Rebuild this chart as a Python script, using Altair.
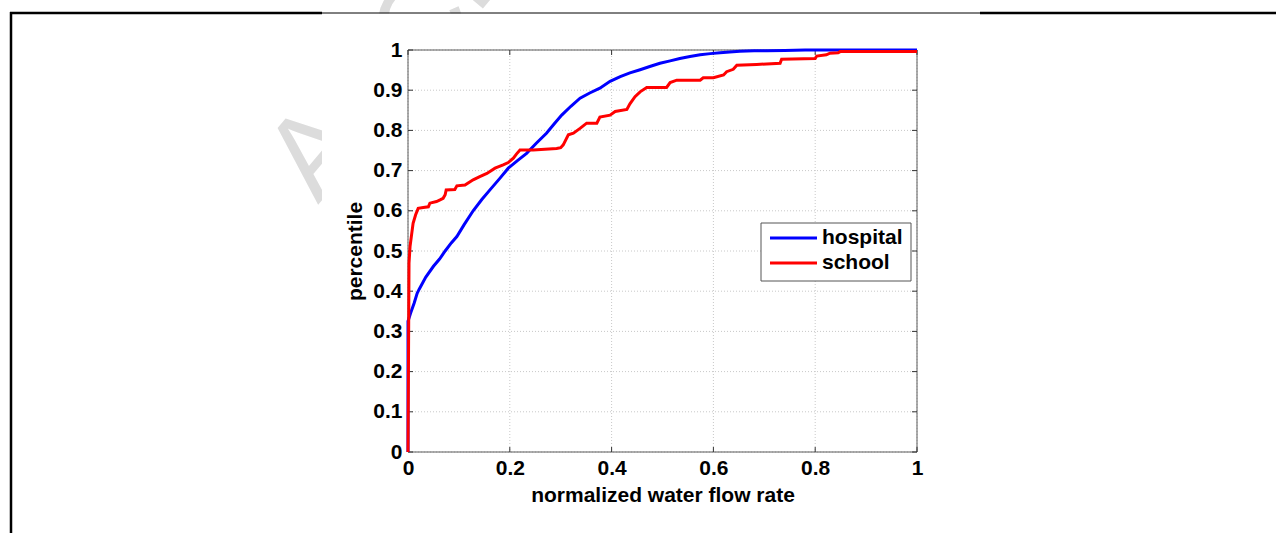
import altair as alt
import pandas as pd

# ---- data ----
series = ["hospital", "school"]
colors = ["#0000ff", "#ff0000"]

hospital_x = [0, 0, 0.005, 0.012, 0.018, 0.022, 0.035, 0.05, 0.062, 0.073, 0.085, 0.096,
              0.11, 0.128, 0.145, 0.161, 0.18, 0.197, 0.215, 0.233, 0.252, 0.272, 0.287,
              0.302, 0.32, 0.338, 0.357, 0.377, 0.397, 0.417, 0.436, 0.456, 0.475, 0.495,
              0.515, 0.534, 0.554, 0.574, 0.594, 0.613, 0.632, 0.652, 0.68, 0.705, 0.74,
              0.78, 0.83, 0.9, 1.0]
hospital_y = [0, 0.325, 0.345, 0.37, 0.395, 0.405, 0.435, 0.462, 0.48, 0.5, 0.52, 0.536,
              0.565, 0.6, 0.628, 0.652, 0.68, 0.706, 0.725, 0.743, 0.768, 0.793, 0.816,
              0.838, 0.86, 0.88, 0.893, 0.905, 0.922, 0.934, 0.943, 0.951, 0.959, 0.967,
              0.973, 0.979, 0.984, 0.988, 0.991, 0.993, 0.995, 0.997, 0.998, 0.998, 0.999,
              1.0, 1.0, 1.0, 1.0]

school_x = [0, 0.002, 0.004, 0.007, 0.010, 0.015, 0.020, 0.030, 0.040, 0.043, 0.056, 0.063,
            0.069, 0.073, 0.075, 0.092, 0.096, 0.112, 0.128, 0.141, 0.155, 0.171, 0.187,
            0.197, 0.207, 0.213, 0.220, 0.246, 0.292, 0.300, 0.305, 0.315, 0.325, 0.338,
            0.351, 0.371, 0.377, 0.397, 0.407, 0.430, 0.436, 0.446, 0.456, 0.469, 0.508,
            0.515, 0.528, 0.574, 0.580, 0.600, 0.620, 0.626, 0.639, 0.646, 0.685, 0.731,
            0.734, 0.800, 0.803, 0.822, 0.829, 0.845, 0.849, 1.0]
school_y = [0, 0.47, 0.511, 0.54, 0.569, 0.59, 0.606, 0.608, 0.610, 0.619, 0.623, 0.627,
            0.631, 0.64, 0.652, 0.653, 0.662, 0.664, 0.677, 0.685, 0.693, 0.706, 0.714,
            0.720, 0.731, 0.741, 0.751, 0.751, 0.755, 0.757, 0.764, 0.789, 0.793, 0.805,
            0.818, 0.818, 0.833, 0.838, 0.847, 0.852, 0.866, 0.884, 0.896, 0.907, 0.907,
            0.919, 0.925, 0.925, 0.931, 0.931, 0.938, 0.946, 0.952, 0.962, 0.964, 0.967,
            0.977, 0.979, 0.985, 0.988, 0.992, 0.993, 0.996, 0.996]

x_ticks = [0, 0.2, 0.4, 0.6, 0.8, 1]
y_ticks = [0, 0.1, 0.2, 0.3, 0.4, 0.5, 0.6, 0.7, 0.8, 0.9, 1]

x_title = "normalized water flow rate"
y_title = "percentile"
watermark_text = "ACCEPTED MANUSCRIPT"

# ---- layout ----
W, H = 509, 402
OX, OY = 408, 50
FONT = "Liberation Sans"

rows = []
for name, xs_, ys_ in [("hospital", hospital_x, hospital_y), ("school", school_x, school_y)]:
    for i, (xv, yv) in enumerate(zip(xs_, ys_)):
        rows.append({"series": name, "x": xv, "y": yv, "i": i})
df = pd.DataFrame(rows)

xsc = alt.Scale(domain=[0, 1], nice=False, zero=False)
ysc = alt.Scale(domain=[0, 1], nice=False, zero=False)
one = pd.DataFrame({"a": [0]})

axis_common = dict(
    grid=False, ticks=False, domain=False, format="~g", zindex=2,
    labelFont=FONT, labelFontSize=21, labelFontWeight="bold", labelColor="black",
    titleFont=FONT, titleFontSize=21, titleFontWeight="bold", titleColor="black",
    labelFlush=False, labelOverlap=False,
)
x_axis = alt.Axis(values=x_ticks, title=x_title, labelPadding=5, titlePadding=6, **axis_common)
y_axis = alt.Axis(values=y_ticks, title=y_title, labelPadding=6, titlePadding=7, **axis_common)


def X(field):
    return alt.X(field, scale=xsc, axis=x_axis)


def Y(field):
    return alt.Y(field, scale=ysc, axis=y_axis)


def px(v):
    return v - OX


def py(v):
    return v - OY


watermark = alt.Chart(one).mark_text(
    text=watermark_text, angle=310, fontSize=117, font=FONT, align="left",
    baseline="alphabetic", color="#dcdcdc"
).encode(x=alt.value(px(318)), y=alt.value(py(205)))

cover = alt.Chart(one).mark_rect(color="white").encode(
    x=alt.value(px(322)), x2=alt.value(px(980)), y=alt.value(py(13.6)), y2=alt.value(py(533))
)


def hline(x1, x2, y, w):
    return alt.Chart(one).mark_rule(color="black", strokeWidth=w).encode(
        x=alt.value(px(x1)), x2=alt.value(px(x2)), y=alt.value(py(y)))


page = [
    hline(10, 322, 13, 2.5),
    hline(980, 1276, 13, 2.5),
    hline(322, 980, 13, 1),
    alt.Chart(one).mark_rule(color="black", strokeWidth=2.5).encode(
        x=alt.value(px(11)), y=alt.value(py(12)), y2=alt.value(py(533))),
]

xdf = pd.DataFrame({"v": x_ticks})
ydf = pd.DataFrame({"v": y_ticks})
grid_style = dict(color="#c8c8c8", strokeDash=[1, 2], strokeWidth=1)
xgrid = alt.Chart(xdf).mark_rule(**grid_style).encode(x=X("v:Q"))
ygrid = alt.Chart(ydf).mark_rule(**grid_style).encode(y=Y("v:Q"))

frame = alt.Chart(one).mark_rect(fill="transparent", stroke="#5a5a5a", strokeWidth=1).encode(
    x=alt.value(0), x2=alt.value(W), y=alt.value(0), y2=alt.value(H))

tick_style = dict(color="#333333", strokeWidth=1)
ticks = [
    alt.Chart(xdf).mark_rule(**tick_style).encode(x=X("v:Q"), y=alt.value(H), y2=alt.value(H - 5)),
    alt.Chart(xdf).mark_rule(**tick_style).encode(x=X("v:Q"), y=alt.value(0), y2=alt.value(5)),
    alt.Chart(ydf).mark_rule(**tick_style).encode(y=Y("v:Q"), x=alt.value(0), x2=alt.value(5)),
    alt.Chart(ydf).mark_rule(**tick_style).encode(y=Y("v:Q"), x=alt.value(W), x2=alt.value(W - 5)),
]

lines = alt.Chart(df).mark_line(strokeWidth=3).encode(
    x=X("x:Q"),
    y=Y("y:Q"),
    color=alt.Color("series:N", scale=alt.Scale(domain=series, range=colors), legend=None),
    order="i:Q",
)

# ---- legend box ----
legend_layers = [
    alt.Chart(one).mark_rect(fill="white", stroke="#555555", strokeWidth=1).encode(
        x=alt.value(px(761)), x2=alt.value(px(911)), y=alt.value(py(223)), y2=alt.value(py(281)))
]
for k, (name, col) in enumerate(zip(series, colors)):
    yy = 238 + 25 * k
    legend_layers.append(
        alt.Chart(one).mark_rule(color=col, strokeWidth=3).encode(
            x=alt.value(px(770)), x2=alt.value(px(817)), y=alt.value(py(yy))))
    legend_layers.append(
        alt.Chart(one).mark_text(text=name, font=FONT, fontSize=21, fontWeight="bold",
                                 align="left", baseline="middle", color="black").encode(
            x=alt.value(px(822)), y=alt.value(py(yy))))

chart = alt.layer(
    watermark, cover, *page, xgrid, ygrid, frame, *ticks, lines, *legend_layers
).properties(
    width=W, height=H,
    autosize=alt.AutoSizeParams(type="none"),
    padding={"left": OX, "top": OY, "right": 1276 - OX - W, "bottom": 533 - OY - H},
).configure_view(stroke=None).configure(background="white")

chart.save("out.html", embed_options={"renderer": "svg", "actions": False})
